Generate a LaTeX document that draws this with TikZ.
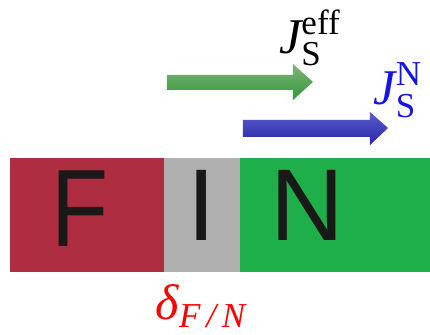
\documentclass[tikz,border=0pt]{standalone}
\usepackage{amsmath}
\usepackage{fontspec}
\setmainfont{Liberation Serif}
\setsansfont{Liberation Sans}
\usetikzlibrary{calc}
\definecolor{ferroRed}{RGB}{175,45,65}
\definecolor{barrierGray}{RGB}{176,176,176}
\definecolor{normalGreen}{RGB}{30,175,75}
\definecolor{currBlue}{RGB}{20,20,230}

\begin{document}
\begin{tikzpicture}[x=0.5pt,y=-0.5pt]
  \useasboundingbox (0,0) rectangle (430,335);
  \tikzset{
    letter/.style={font=\sffamily\fontsize{51}{60}\selectfont,text=black!90,inner sep=0pt},
    effarrow/.style={top color=green!40!black!50!white,bottom color=green!50!black!80},
    narrow/.style={top color=blue!55!white!80!black,bottom color=blue!60!black!85}
  }
  % --- F / I / N stack ---
  \fill[ferroRed]    (10,158)  rectangle (164,272);
  \fill[barrierGray] (164,158) rectangle (240,272);
  \fill[normalGreen] (240,158) rectangle (430,272);
  \node[letter,font=\sffamily\fontsize{55}{60}\selectfont,xscale=0.85] (F) at (80,209) {F};
  \node[letter] (I) at (202,205) {I};
  \node[letter] (N) at (307,205) {N};
  % --- spin currents ---
  \shade[effarrow] (167,75) -- (293,75) -- (293,64) -- (313,82)
        -- (293,100) -- (293,90) -- (167,90) -- cycle;
  \shade[narrow] (243,120) -- (370,120) -- (370,112) -- (388,128)
        -- (370,145) -- (370,137) -- (243,137) -- cycle;
  % labels
  \node[font=\fontsize{25}{30}\selectfont,inner sep=0pt] (Jeff) at (310,38)
        {$\text{\itshape J}_{\text{S}}^{\text{eff}}$};
  \node[font=\fontsize{25}{30}\selectfont,inner sep=0pt,text=currBlue] (JN) at (398,90)
        {$\text{\itshape J}_{\text{S}}^{\text{N}}$};
  \node[font=\fontsize{25}{30}\selectfont,inner sep=0pt,text=red] (delta) at (201,306)
        {$\text{\itshape δ}_{\text{\itshape F\,/\,N}}$};
\end{tikzpicture}
\end{document}
